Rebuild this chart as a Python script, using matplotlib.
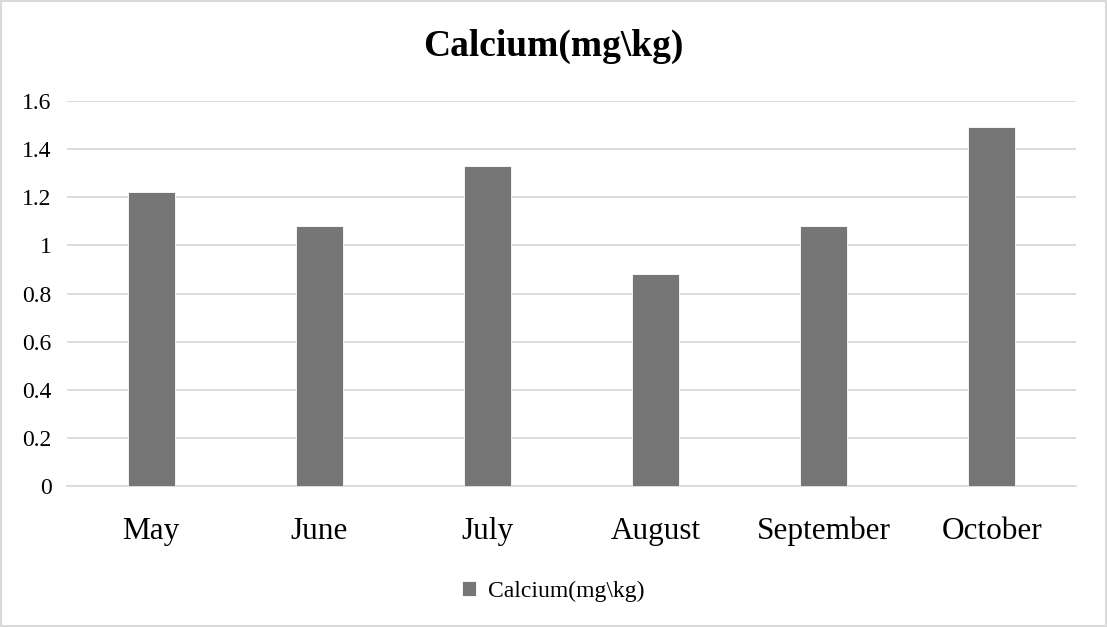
import matplotlib.pyplot as plt
from matplotlib.patches import Rectangle

months = ['May', 'June', 'July', 'August', 'September', 'October']
calcium = [1.22, 1.08, 1.33, 0.88, 1.08, 1.49]
y_ticks = [0, 0.2, 0.4, 0.6, 0.8, 1, 1.2, 1.4, 1.6]
y_labels = ['0', '0.2', '0.4', '0.6', '0.8', '1', '1.2', '1.4', '1.6']

plt.rcParams['font.family'] = ['Liberation Serif', 'DejaVu Serif']

fig = plt.figure(figsize=(11.07, 6.27), dpi=100)
ax = fig.add_axes([67 / 1107, 1 - 486 / 627, (1076 - 67) / 1107, (486 - 101) / 627])

x = range(len(months))
ax.bar(x, calcium, width=0.28, color='#767676', edgecolor='white', linewidth=0.6,
       label='Calcium(mg\\kg)', zorder=3)

ax.set_xlim(-0.5, len(months) - 0.5)
ax.set_ylim(0, 1.6)
ax.set_yticks(y_ticks)
ax.set_yticklabels(y_labels, fontsize=17)
ax.set_xticks(list(x))
ax.set_xticklabels(months, fontsize=22.5)
ax.tick_params(axis='both', length=0)
ax.tick_params(axis='y', pad=11)
ax.tick_params(axis='x', pad=22)
ax.grid(axis='y', color='#d9d9d9', linewidth=1.3, zorder=0)
for s in ['top', 'right', 'left']:
    ax.spines[s].set_visible(False)
ax.spines['bottom'].set_color('#d9d9d9')
ax.spines['bottom'].set_linewidth(1.3)

fig.text(0.5, 1 - 46 / 627, 'Calcium(mg\\kg)', fontsize=27, fontweight='bold',
         ha='center', va='center')

fig.legend(loc='center', bbox_to_anchor=(0.5, 1 - 591 / 627), frameon=False,
           fontsize=17, handlelength=0.6, handleheight=0.6, handletextpad=0.5)

fig.patches.append(Rectangle((0.001, 0.001), 0.998, 0.998, transform=fig.transFigure,
                             fill=False, edgecolor='#d9d9d9', linewidth=1.5))

fig.savefig('out.png', dpi=100)
